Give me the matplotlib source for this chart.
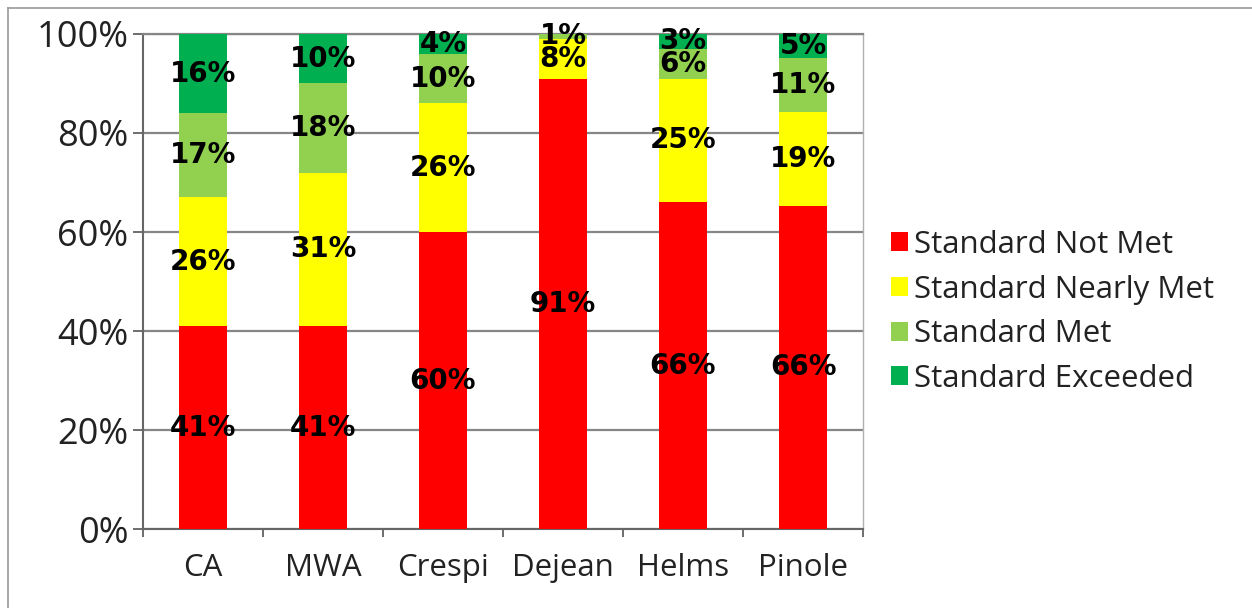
import numpy as np
import matplotlib
matplotlib.use('Agg')
import matplotlib.pyplot as plt
from matplotlib.lines import Line2D
from matplotlib.patches import Patch

# school results, percent of students per achievement level
schools = ["CA", "MWA", "Crespi", "Dejean", "Helms", "Pinole"]
levels = ["Standard Not Met", "Standard Nearly Met", "Standard Met", "Standard Exceeded"]
not_met = [41, 41, 60, 91, 66, 66]
nearly_met = [26, 31, 26, 8, 25, 19]
met = [17, 18, 10, 1, 6, 11]
exceeded = [16, 10, 4, 0, 3, 5]
colors = ["#FF0000", "#FFFF00", "#92D050", "#00B050"]

plt.rcParams['font.family'] = ['Open Sans', 'DejaVu Sans']

fig = plt.figure(figsize=(12.52, 6.08), dpi=100)
ax = fig.add_axes([0.1142, 0.1299, 0.5751, 0.8142])

data = np.array([not_met, nearly_met, met, exceeded], dtype=float)
shares = data / data.sum(axis=0) * 100  # 100% stacked
x = np.arange(len(schools))
bottom = np.zeros(len(schools))
for i, lvl in enumerate(levels):
    ax.bar(x, shares[i], 0.4, bottom=bottom, color=colors[i], zorder=3)
    for j in range(len(schools)):
        if data[i, j] > 0:
            ax.text(x[j], bottom[j] + shares[i, j] / 2, f"{int(data[i, j])}%",
                    ha='center', va='center', fontsize=20, fontweight='bold',
                    family='DejaVu Sans', color='black', zorder=4)
    bottom += shares[i]

ax.set_xlim(-0.5, len(schools) - 0.5)
ax.set_ylim(0, 100)
ax.set_yticks(np.arange(0, 101, 20))
ax.set_yticklabels([f"{v}%" for v in range(0, 101, 20)], fontsize=26, color='#222222')
ax.yaxis.grid(True, color='#868686', linewidth=1.6, zorder=1)
ax.tick_params(axis='y', length=7.5, width=1.2, color='#555555', pad=3)

ax.set_xticks(x)
ax.set_xticklabels(schools, fontsize=22.5, color='#222222')
ax.set_xticks(np.arange(-0.5, len(schools)), minor=True)
ax.tick_params(axis='x', which='major', length=0, pad=17)
ax.tick_params(axis='x', which='minor', length=6, width=1.2, color='#555555')

for side in ['left', 'bottom']:
    ax.spines[side].set_color('#666666')
    ax.spines[side].set_linewidth(1.5)
ax.spines['top'].set_color('#868686')
ax.spines['top'].set_linewidth(1.6)
ax.spines['right'].set_color('#b0b0b0')
ax.spines['right'].set_linewidth(1.0)

handles = [Patch(facecolor=c, edgecolor='none') for c in colors]
fig.legend(handles, levels, loc='center left', bbox_to_anchor=(0.689, 0.487),
           frameon=False, fontsize=22.5, handlelength=0.55, handleheight=0.55,
           handletextpad=0.2, labelspacing=0.47, labelcolor='#222222')

# outer frame edges
fig.add_artist(Line2D([0.006, 1.0], [0.987, 0.987], transform=fig.transFigure,
                      color='#999999', linewidth=1.2))
fig.add_artist(Line2D([0.006, 0.006], [0.0, 0.987], transform=fig.transFigure,
                      color='#999999', linewidth=1.2))

fig.savefig("out.png", dpi=100)
